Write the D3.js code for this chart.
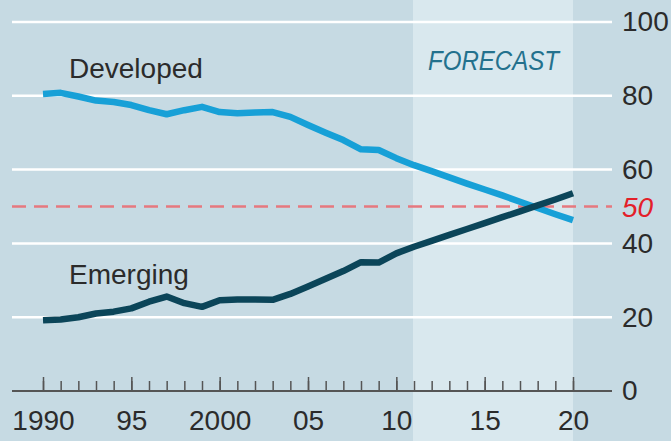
<!DOCTYPE html>
<html>
<head>
<meta charset="utf-8">
<script src="https://cdn.jsdelivr.net/npm/d3@7"></script>
<style>
  html, body { margin: 0; padding: 0; background: #c6dae3; }
  svg { display: block; }
  text { font-family: "Liberation Sans", Arial, sans-serif; }
</style>
</head>
<body>
<div id="chart"></div>
<script>
// years shown, actual + forecast
const years = d3.range(1990, 2021);
const forecastStart = 2011;
const forecastEnd = 2020;

// share of world GDP, %
const developed = [80.5, 80.8, 79.8, 78.7, 78.3, 77.5, 76.1, 75.0, 76.1, 77.0,
  75.6, 75.3, 75.5, 75.6, 74.3, 72.1, 70.0, 68.0, 65.5, 65.3,
  63.1, 61.2, 59.6, 57.9, 56.2, 54.6, 53.0, 51.3, 49.6, 47.9, 46.3];
const emerging = [19.2, 19.4, 20.0, 21.0, 21.5, 22.4, 24.2, 25.6, 23.8, 22.8,
  24.6, 24.8, 24.8, 24.7, 26.3, 28.3, 30.4, 32.5, 34.9, 34.8,
  37.3, 39.1, 40.7, 42.3, 43.9, 45.5, 47.1, 48.7, 50.3, 51.9, 53.6];

const yTicks = [0, 20, 40, 60, 80, 100];
const majorYears = [1990, 1995, 2000, 2005, 2010, 2015, 2020];
const yearLabels = ["1990", "95", "2000", "05", "10", "15", "20"];
const halfLine = 50;

const width = 671, height = 441;
const plotLeft = 12, plotRight = 612;

const svg = d3.select('#chart')
  .append('svg')
  .attr('width', width)
  .attr('height', height);

const x = d3.scaleLinear()
  .domain([1990, 2020])
  .range([43, 573]);

const y = d3.scaleLinear()
  .domain([0, 100])
  .range([391, 22]);

// background
svg.append('rect')
  .attr('width', width)
  .attr('height', height)
  .attr('fill', '#c6dae3');

// forecast band
svg.append('rect')
  .attr('x', x(forecastStart) - 1)
  .attr('y', 0)
  .attr('width', x(forecastEnd) - x(forecastStart) + 1)
  .attr('height', height)
  .attr('fill', '#d9e8ee');

// condensed look, squeezed horizontally
svg.append('text')
  .attr('transform', 'translate(' + x(2015.5) + ',70) scale(0.86,1)')
  .attr('text-anchor', 'middle')
  .attr('font-size', 28)
  .attr('font-style', 'italic')
  .attr('fill', '#23718d')
  .text('FORECAST');

// gridlines
svg.selectAll('line.grid')
  .data(yTicks.filter(d => d > 0))
  .enter()
  .append('line')
  .attr('class', 'grid')
  .attr('x1', plotLeft)
  .attr('x2', plotRight)
  .attr('y1', d => y(d))
  .attr('y2', d => y(d))
  .attr('stroke', '#ffffff')
  .attr('stroke-width', 2.5);

// y labels
const yAxis = svg.append('g')
  .attr('transform', 'translate(' + plotRight + ',0)')
  .call(d3.axisRight(y).tickValues(yTicks).tickSize(0).tickPadding(10).tickFormat(d3.format('d')));
yAxis.select('.domain').remove();
yAxis.selectAll('text')
  .attr('font-family', '"Liberation Sans", Arial, sans-serif')
  .attr('font-size', 28)
  .attr('fill', '#2b2b2b');

// 50 line
svg.append('line')
  .attr('x1', plotLeft)
  .attr('x2', plotRight)
  .attr('y1', y(halfLine))
  .attr('y2', y(halfLine))
  .attr('stroke', '#e6787f')
  .attr('stroke-width', 2.5)
  .attr('stroke-dasharray', '14,8');

svg.append('text')
  .attr('x', plotRight + 10)
  .attr('y', y(halfLine))
  .attr('dy', '0.36em')
  .attr('font-size', 28)
  .attr('font-style', 'italic')
  .attr('fill', '#e3202a')
  .text(halfLine);

// x axis: minor ticks
const minorAxis = svg.append('g')
  .attr('transform', 'translate(0,' + y(0) + ')')
  .call(d3.axisBottom(x).tickValues(years).tickSizeInner(-10).tickSizeOuter(0).tickFormat(''));
minorAxis.select('.domain').remove();
minorAxis.selectAll('line').attr('stroke', '#555').attr('stroke-width', 1.5);

// x axis: major ticks + labels
const majorAxis = svg.append('g')
  .attr('transform', 'translate(0,' + y(0) + ')')
  .call(d3.axisBottom(x).tickValues(majorYears).tickSizeInner(-14).tickSizeOuter(0).tickPadding(19)
    .tickFormat((d, i) => yearLabels[i]));
majorAxis.select('.domain').remove();
majorAxis.selectAll('line').attr('stroke', '#555').attr('stroke-width', 1.5);
majorAxis.selectAll('text')
  .attr('font-family', '"Liberation Sans", Arial, sans-serif')
  .attr('font-size', 28)
  .attr('fill', '#2b2b2b');

svg.append('line')
  .attr('x1', plotLeft)
  .attr('x2', plotRight)
  .attr('y1', y(0))
  .attr('y2', y(0))
  .attr('stroke', '#555')
  .attr('stroke-width', 2);

// lines
const line = d3.line()
  .x((d, i) => x(years[i]))
  .y(d => y(d));

svg.append('path')
  .datum(developed)
  .attr('fill', 'none')
  .attr('stroke', '#17a0d7')
  .attr('stroke-width', 6.5)
  .attr('stroke-linejoin', 'round')
  .attr('d', line);

svg.append('path')
  .datum(emerging)
  .attr('fill', 'none')
  .attr('stroke', '#0b4559')
  .attr('stroke-width', 6.5)
  .attr('stroke-linejoin', 'round')
  .attr('d', line);

// series labels
svg.append('text')
  .attr('x', 69)
  .attr('y', 78)
  .attr('font-size', 28)
  .attr('fill', '#2b2b2b')
  .text('Developed');

svg.append('text')
  .attr('x', 69)
  .attr('y', 284)
  .attr('font-size', 28)
  .attr('fill', '#2b2b2b')
  .text('Emerging');
</script>
</body>
</html>
